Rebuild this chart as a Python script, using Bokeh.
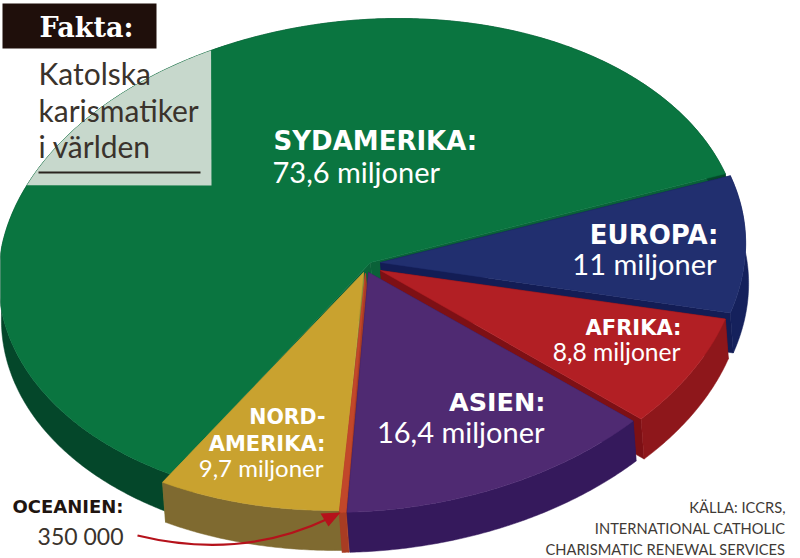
import numpy as np
from bokeh.plotting import figure
from bokeh.models import Range1d
from bokeh.core.properties import value
from bokeh.embed import file_html
from bokeh.resources import INLINE

# --- data (millions), clockwise from the top-right of the pie
regions = ["EUROPA", "AFRIKA", "ASIEN", "OCEANIEN", "NORDAMERIKA", "SYDAMERIKA"]
millions = [11.0, 8.8, 16.4, 0.35, 9.7, 73.6]

# --- styling per slice
top_colors = ["#212f6f", "#b21f24", "#4f2a72", "#c2472a", "#c9a22f", "#0a7540"]
rim_colors = ["#15215c", "#8e171b", "#35195c", "#a83c23", "#7f6a30", "#04472a"]
cut_colors = ["#131d55", "#7d1015", "#35195c", "#a83c23", "#8a8b3a", "#0a6238"]
# displacement of each slice's outer arc and of its apex
offsets = [(2, 2), (-3, 8), (-11, 10), (-12, 10), (-11, 8), (-3, 0)]
apex_offsets = [(8, 2), (8, 10), (-4, 12), (-7, 13), (-9, 12), (-2, 2)]
draw_order = [5, 0, 1, 4, 3, 2]

CX, CY, RX, RY, DEPTH, DEPTH_DX, SHEAR = 372.0, 260.0, 370.0, 242.0, 40.0, 3.0, 0.12
START = 21.0

p = figure(width=800, height=558, output_backend="svg", toolbar_location=None,
           x_range=Range1d(0, 800), y_range=Range1d(558, 0), min_border=0,
           x_axis_type=None, y_axis_type=None, outline_line_color=None,
           background_fill_color="white", border_fill_color="white")
p.grid.visible = False

total = sum(millions)
spans = [v / total * 360 for v in millions]
ends = START - np.cumsum(spans)
starts = ends + np.array(spans)


def arc(a0, a1, dx, dy):
    t = np.radians(np.linspace(a0, a1, max(int(abs(a1 - a0) * 2), 6)))
    return (CX + dx + RX * np.cos(t) + SHEAR * RY * np.sin(t),
            CY + dy - RY * np.sin(t))


for i in draw_order:
    dx, dy = offsets[i]
    ax, ay = arc(starts[i], ends[i], dx, dy)
    ox, oy = CX + apex_offsets[i][0], CY + apex_offsets[i][1]
    # cut faces
    for ex, ey in ((ax[0], ay[0]), (ax[-1], ay[-1])):
        p.patch([ox, ex, ex + DEPTH_DX, ox + DEPTH_DX], [oy, ey, ey + DEPTH, oy + DEPTH],
                fill_color=cut_colors[i], line_color=cut_colors[i], line_width=0.5)
    # rim
    p.patch(np.r_[ax, ax[::-1] + DEPTH_DX], np.r_[ay, ay[::-1] + DEPTH],
            fill_color=rim_colors[i], line_color=rim_colors[i], line_width=0.5)
    # top
    p.patch(np.r_[ox, ax], np.r_[oy, ay],
            fill_color=top_colors[i], line_color=top_colors[i], line_width=0.5)
    if regions[i] == "SYDAMERIKA":
        keep = (ax <= 211) & (ay <= 185)
        p.patch(np.r_[ax[keep], 211], np.r_[ay[keep], 185],
                fill_color="#c7d8cc", line_color=None)

# header
p.quad(left=[2], right=[156], top=[3], bottom=[48], fill_color="#1f0f0b", line_color=None)


def txt(x, y, s, size, color, style="normal", font="Lato", align="left"):
    p.text([x], [y], text=[s], text_font=value(font), text_font_size=f"{size}px",
           text_font_style=style, text_color=color, text_align=align, text_baseline="middle")


txt(86, 27, "Fakta:", 27, "#ffffff", "bold", "DejaVu Serif", "center")
txt(38, 72, "Katolska", 30, "#3a332c")
txt(38, 109, "karismatiker", 30, "#3a332c")
txt(38, 145, "i världen", 30, "#3a332c")
p.line([38, 200], [172, 172], line_color="#2a241f", line_width=2)

bold = dict(style="bold", font="DejaVu Sans")
txt(273, 140, "SYDAMERIKA:", 26, "#ffffff", **bold)
txt(272, 171, "73,6 miljoner", 29, "#ffffff")
txt(718, 234, "EUROPA:", 26, "#ffffff", align="right", **bold)
txt(716, 263, "11 miljoner", 29, "#ffffff", align="right")
txt(681, 327, "AFRIKA:", 21, "#ffffff", align="right", **bold)
txt(680, 351, "8,8 miljoner", 24.6, "#ffffff", align="right")
txt(545, 401, "ASIEN:", 25.5, "#ffffff", align="right", **bold)
txt(544, 431, "16,4 miljoner", 29, "#ffffff", align="right")
txt(325, 416, "NORD-", 20.5, "#ffffff", align="right", **bold)
txt(325, 443, "AMERIKA:", 21, "#ffffff", align="right", **bold)
txt(323, 467, "9,7 miljoner", 24, "#ffffff", align="right")
txt(123, 506, "OCEANIEN:", 18, "#1f1510", align="right", **bold)
txt(123, 535, "350 000", 23, "#3a332c", align="right")
txt(785, 506, "KÄLLA: ICCRS,", 14.7, "#3f3a36", align="right")
txt(785, 527, "INTERNATIONAL CATHOLIC", 14.7, "#3f3a36", align="right")
txt(785, 548, "CHARISMATIC RENEWAL SERVICES", 14.7, "#3f3a36", align="right")

# arrow to Oceanien
p.quadratic(x0=[137], y0=[535], x1=[328], y1=[518], cx=[240], cy=[560],
            line_color="#b5121b", line_width=2.2)
p.patch([340, 320, 328], [512, 513, 526], fill_color="#b5121b", line_color=None)

open("out.html", "w").write(file_html(p, INLINE))
